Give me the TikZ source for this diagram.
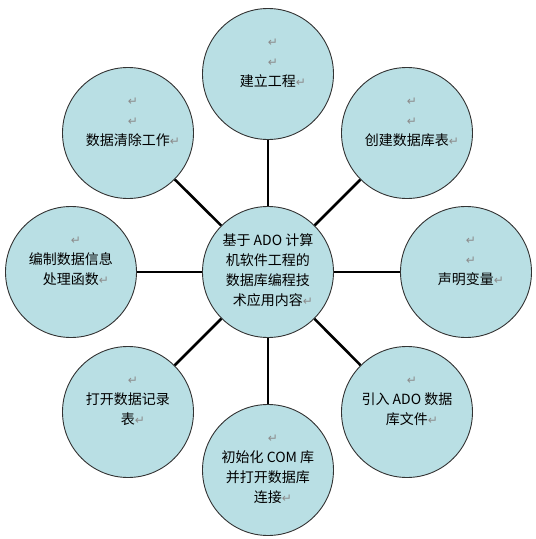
\documentclass[tikz,border=0pt]{standalone}
\usepackage{fontspec}
\setmainfont{Noto Sans CJK SC}
\newfontfamily\markfont{DejaVu Sans}
\usetikzlibrary{shapes}

\definecolor{bubblefill}{RGB}{185,223,228}
\newcommand{\pmark}{\rlap{\markfont\fontsize{12}{12}\selectfont\color{black!45}↵}}

\begin{document}
\begin{tikzpicture}[x=1pt, y=1pt, line width=2.6pt,
  bubble/.style={circle, draw=black!80, line width=0.9pt, fill=bubblefill, minimum size=131pt, inner sep=0pt},
  caption/.style={anchor=base, align=center, inner sep=0pt, font=\fontsize{14}{20}\selectfont}]
\useasboundingbox (-268,-267) rectangle (268,272);

\node[bubble] (0) at (0,0) {};
\node[bubble] (1) at (0,198) {};
\node[bubble] (2) at (139,139) {};
\node[bubble] (3) at (198,0) {};
\node[bubble] (4) at (139,-140) {};
\node[bubble] (5) at (0,-198) {};
\node[bubble] (6) at (-140,-140) {};
\node[bubble] (7) at (-197,0) {};
\node[bubble] (8) at (-140,139) {};

\path (0) edge (1)
      (0) edge (2)
      (0) edge (3)
      (0) edge (4)
      (0) edge (5)
      (0) edge (6)
      (0) edge (7)
      (0) edge (8);

% base = baseline of the last line
\node[caption] (t0) at (0,-33) {基于 ADO 计算\\机软件工程的\\数据库编程技\\术应用内容\pmark};
\node[caption] (t1) at (0,186) {\pmark\\\pmark\\建立工程\pmark};
\node[caption] (t2) at (139,127) {\pmark\\\pmark\\创建数据库表\pmark};
\node[caption] (t3) at (198,-12) {\pmark\\\pmark\\声明变量\pmark};
\node[caption] (t4) at (139,-152) {\pmark\\引入 ADO 数据\\库文件\pmark};
\node[caption] (t5) at (0,-230) {\pmark\\初始化 COM 库\\并打开数据库\\连接\pmark};
\node[caption] (t6) at (-140,-152) {\pmark\\打开数据记录\\表\pmark};
\node[caption] (t7) at (-197,-12) {\pmark\\编制数据信息\\处理函数\pmark};
\node[caption] (t8) at (-140,127) {\pmark\\\pmark\\数据清除工作\pmark};
\end{tikzpicture}
\end{document}
